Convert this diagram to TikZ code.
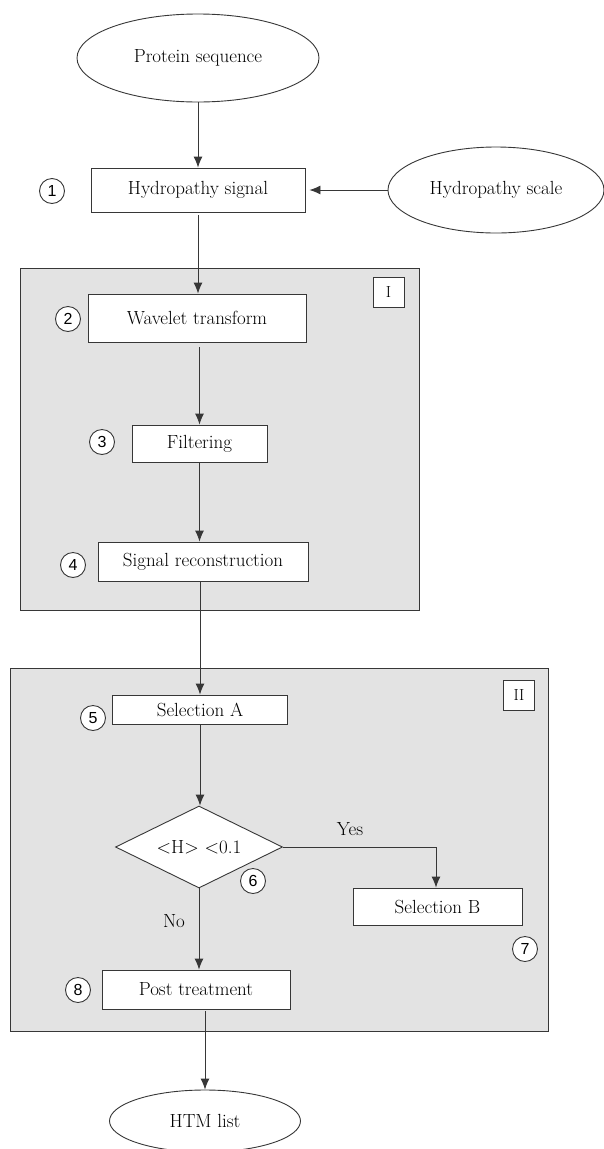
\documentclass[tikz,border=0pt]{standalone}
\usepackage{fontspec}
\newfontfamily\numfont{Liberation Sans}
\usetikzlibrary{arrows.meta}
\usetikzlibrary{shapes.geometric}
\tikzset{>={Latex[length=11pt,width=9pt]}}
\definecolor{panelgray}{RGB}{227,227,227}
\definecolor{linegray}{RGB}{55,55,55}
\tikzstyle{flowline}=[draw=linegray,line width=0.9pt]
\tikzstyle{stepbox}=[draw=linegray,fill=white,line width=0.9pt,inner sep=0pt,font=\fontsize{19}{22}\selectfont]
\tikzstyle{endellipse}=[ellipse,draw=linegray,fill=white,line width=0.9pt,inner sep=0pt,font=\fontsize{19}{22}\selectfont]
\tikzstyle{numcircle}=[circle,draw=linegray,fill=white,line width=0.9pt,minimum size=25pt,inner sep=0pt,font=\numfont\fontsize{16}{18}\selectfont]
\tikzstyle{panel}=[draw=linegray,fill=panelgray,line width=0.9pt]
\tikzstyle{panellabel}=[draw=linegray,fill=white,line width=0.9pt,minimum width=31pt,minimum height=30pt,inner sep=0pt,font=\fontsize{16}{18}\selectfont]
\tikzstyle{answer}=[font=\fontsize{19}{22}\selectfont]

\begin{document}
\begin{tikzpicture}[x=1pt,y=-1pt]
  \useasboundingbox (0,0) rectangle (604,1149);
  % the two shaded stages
  \draw[panel] (20,268) rectangle (419,610);
  \draw[panel] (10,668) rectangle (548,1031);
  \node[panellabel] (labelI) at (388.5,292) {I};
  \node[panellabel] (labelII) at (519,695.5) {II};

  \node[endellipse,minimum width=242pt,minimum height=88pt] (prot) at (198,58) {Protein sequence};
  \node[stepbox,minimum width=214pt,minimum height=44pt] (hsig) at (198,190) {Hydropathy signal};
  \node[endellipse,minimum width=216pt,minimum height=86pt] (hscale) at (496,190) {Hydropathy scale};
  \node[stepbox,minimum width=218pt,minimum height=48pt] (wav) at (197,318) {Wavelet transform};
  \node[stepbox,minimum width=135pt,minimum height=37pt] (filt) at (199.5,443.5) {Filtering};
  \node[stepbox,minimum width=210pt,minimum height=39pt] (recon) at (203,561.5) {Signal reconstruction};
  \node[stepbox,minimum width=175pt,minimum height=29pt] (sela) at (200,709.5) {Selection A};
  \node[stepbox,diamond,aspect=2,minimum width=167pt,minimum height=82pt] (test) at (199,847) {<H> <0.1};
  \node[stepbox,minimum width=169pt,minimum height=37pt] (selb) at (437.5,906.5) {Selection B};
  \node[stepbox,minimum width=188pt,minimum height=39pt] (post) at (196,989.5) {Post treatment};
  \node[endellipse,minimum width=191pt,minimum height=62pt] (htm) at (205,1121) {HTM list};

  \node[numcircle] (n1) at (52,191) {1};
  \node[numcircle] (n2) at (68,319) {2};
  \node[numcircle] (n3) at (102,442) {3};
  \node[numcircle] (n4) at (73,565) {4};
  \node[numcircle] (n5) at (93,718) {5};
  \node[numcircle] (n6) at (253,881) {6};
  \node[numcircle] (n7) at (525,949) {7};
  \node[numcircle] (n8) at (78,990) {8};

  \node[answer] (yes) at (350,829) {Yes};
  \node[answer] (no) at (174,921) {No};

  \draw[flowline,->] (prot.south) -- (hsig.north);
  \draw[flowline,->] (hscale.west) -- ([xshift=4pt]hsig.east);
  \draw[flowline,->] ([yshift=-3pt]hsig.south) -- (hsig.south |- wav.north);
  \draw[flowline,->] ([yshift=-5pt]wav.south -| filt.north) -- (filt.north);
  \draw[flowline,->] (filt.south) -- (filt.south |- recon.north);
  \draw[flowline,->] (recon.south -| sela.north) -- (sela.north);
  \draw[flowline,->] (sela.south) -- (sela.south |- test.north);
  \draw[flowline,->] (test.east) -| ([xshift=-1.5pt]selb.north);
  \draw[flowline,->] (test.south) -- (test.south |- post.north);
  \draw[flowline,->] ([yshift=-2pt]post.south -| htm.north) -- (htm.north);
\end{tikzpicture}
\end{document}
